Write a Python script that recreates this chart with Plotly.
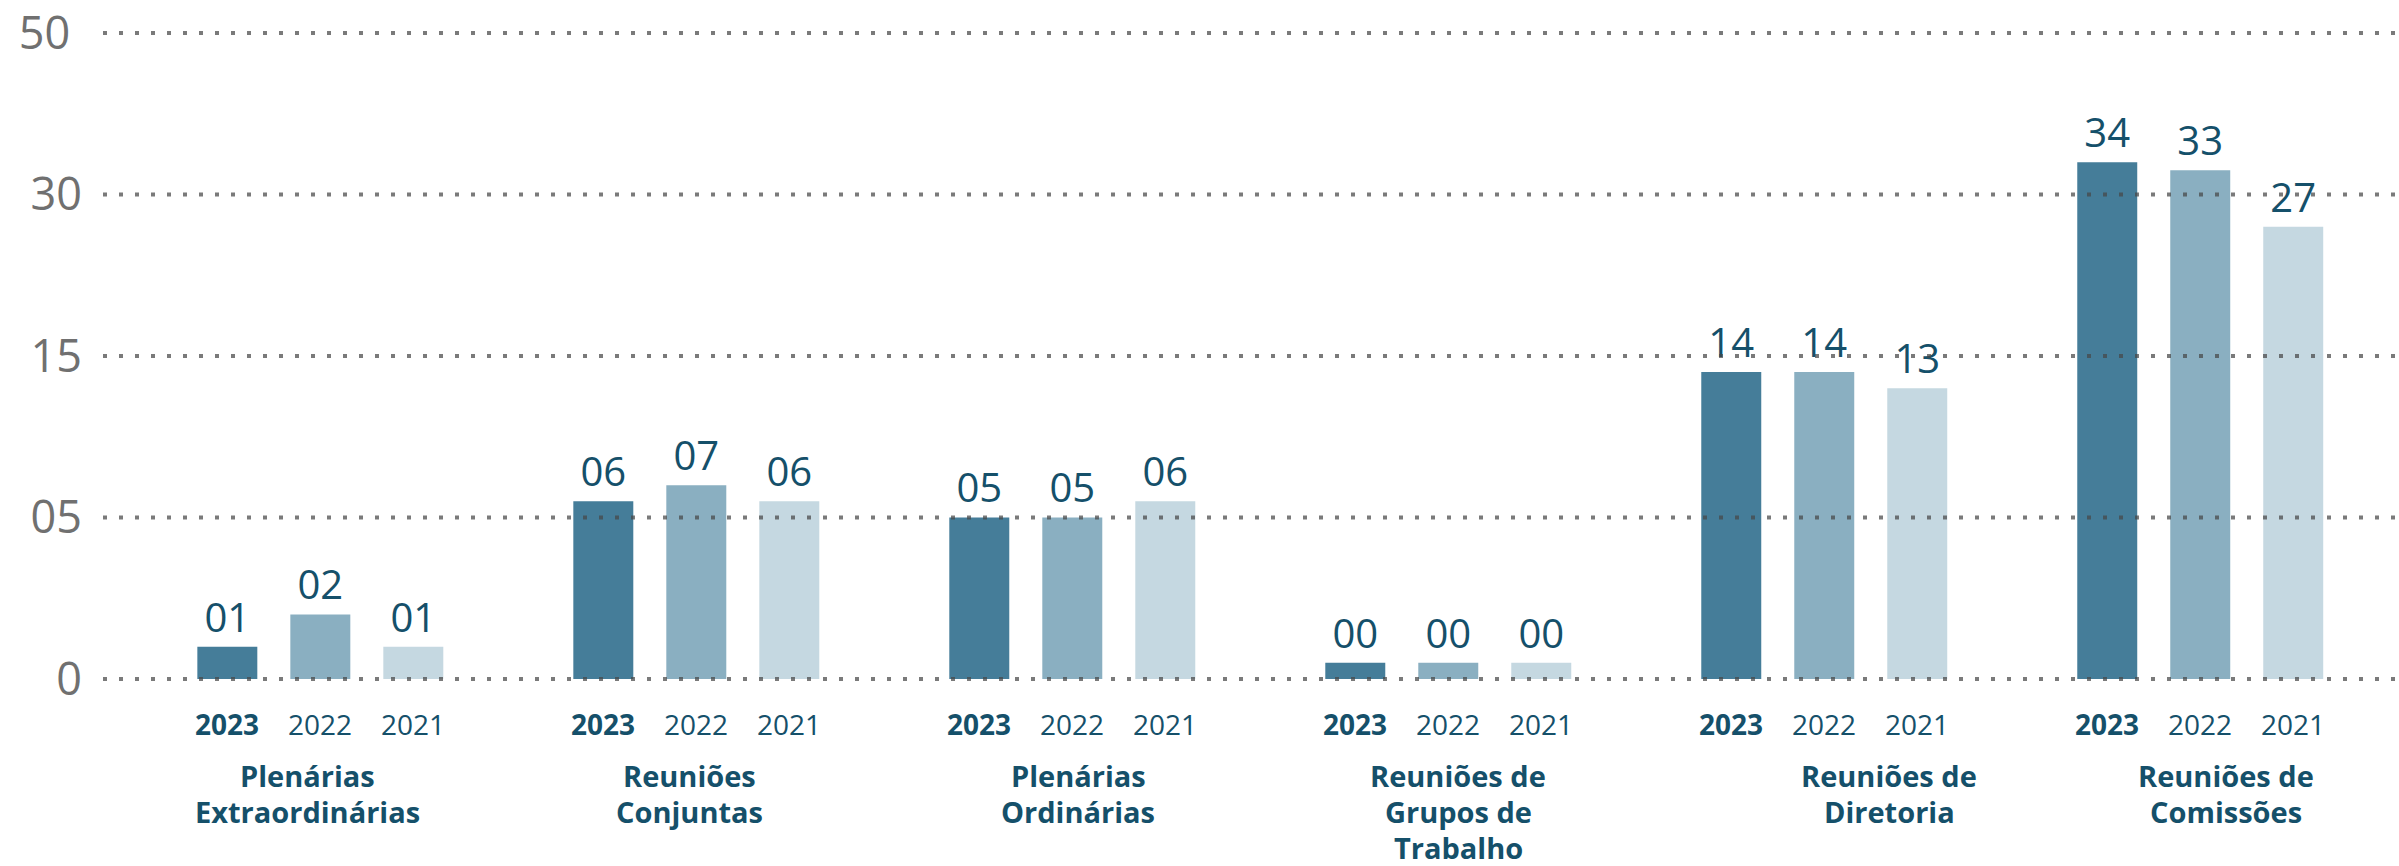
import numpy as np
import plotly.graph_objects as go

# Meeting counts per category and year
categories = [
    "Plenárias Extraordinárias",
    "Reuniões Conjuntas",
    "Plenárias Ordinárias",
    "Reuniões de Grupos de Trabalho",
    "Reuniões de Diretoria",
    "Reuniões de Comissões",
]
category_lines = [
    ["Plenárias", "Extraordinárias"],
    ["Reuniões", "Conjuntas"],
    ["Plenárias", "Ordinárias"],
    ["Reuniões de", "Grupos de", "Trabalho"],
    ["Reuniões de", "Diretoria"],
    ["Reuniões de", "Comissões"],
]
years = ["2023", "2022", "2021"]
values_2023 = [1, 6, 5, 0, 14, 34]
values_2022 = [2, 7, 5, 0, 14, 33]
values_2021 = [1, 6, 6, 0, 13, 27]

# Axis breakpoints: the scale is evenly spaced between these ticks
tick_values = [0, 5, 15, 30, 50]
tick_text = ["0", "05", "15", "30", "50\u00a0"]

series = [values_2023, values_2022, values_2021]
colors = ["#457d99", "#8aafc1", "#c5d8e1"]
text_color = "#15506a"
font_family = "Open Sans"

# Horizontal nudges (px) for the category captions under each group
caption_nudge = [-13, -7, 6, 10, 65, 26]

tick_pos = list(range(len(tick_values)))


def to_axis(vals):
    """Map counts onto the piecewise-even axis; zero counts keep a thin stub."""
    pos = np.interp(vals, tick_values, tick_pos)
    return np.where(np.asarray(vals) == 0, 0.1, pos)


bargap = 0.258
bargroupgap = 0.355

fig = go.Figure()
for year, vals, col in zip(years, series, colors):
    fig.add_trace(go.Bar(
        name=year,
        x=categories,
        y=to_axis(vals),
        marker=dict(color=col, line=dict(width=0)),
        text=[f"{v:02d}" for v in vals],
        textposition="outside",
        constraintext="none",
        cliponaxis=False,
        textfont=dict(family=font_family, size=40, color=text_color),
        hoverinfo="skip",
    ))

# Year labels beneath each bar
slot = (1 - bargap) / len(years)
annotations = []
for gi in range(len(categories)):
    for k, year in enumerate(years):
        label = f"<b>{year}</b>" if k == 0 else year
        annotations.append(dict(
            x=gi + (k - 1) * slot, y=0, xref="x", yref="y",
            yanchor="top", yshift=-24, showarrow=False,
            text=label,
            font=dict(family=font_family, size=28, color=text_color),
        ))

# Category captions, one annotation per line for tight line spacing
for gi, lines in enumerate(category_lines):
    for li, line in enumerate(lines):
        annotations.append(dict(
            x=gi, y=0, xref="x", yref="paper",
            yanchor="middle", yshift=-75 - 36 * li,
            xshift=caption_nudge[gi], showarrow=False,
            text=f"<b>{line}</b>",
            font=dict(family=font_family, size=29, color=text_color),
        ))

# Dotted guide lines drawn over the bars
shapes = []
for p in tick_pos:
    shapes.append(dict(
        type="line", xref="paper", yref="y", x0=0, x1=1, y0=p, y1=p,
        layer="above",
        line=dict(color="rgba(70,70,70,0.72)", width=4, dash="4px,12px"),
    ))

fig.update_layout(
    width=2399, height=866,
    margin=dict(l=103, r=4, t=20, b=166),
    paper_bgcolor="white", plot_bgcolor="white",
    barmode="group", bargap=bargap, bargroupgap=bargroupgap,
    showlegend=False,
    annotations=annotations,
    shapes=shapes,
    xaxis=dict(
        type="category",
        range=[-0.578, 5.518],
        showticklabels=False,
        ticks="", showline=False, showgrid=False, zeroline=False,
        automargin=False,
    ),
    yaxis=dict(
        range=[-0.13, 4.08],
        tickmode="array",
        tickvals=tick_pos,
        ticktext=tick_text,
        tickfont=dict(family=font_family, size=45, color="#707070"),
        ticks="", showline=False, showgrid=False, zeroline=False,
        ticklabelstandoff=20,
        automargin=False,
    ),
)

fig.write_html("out.html")
